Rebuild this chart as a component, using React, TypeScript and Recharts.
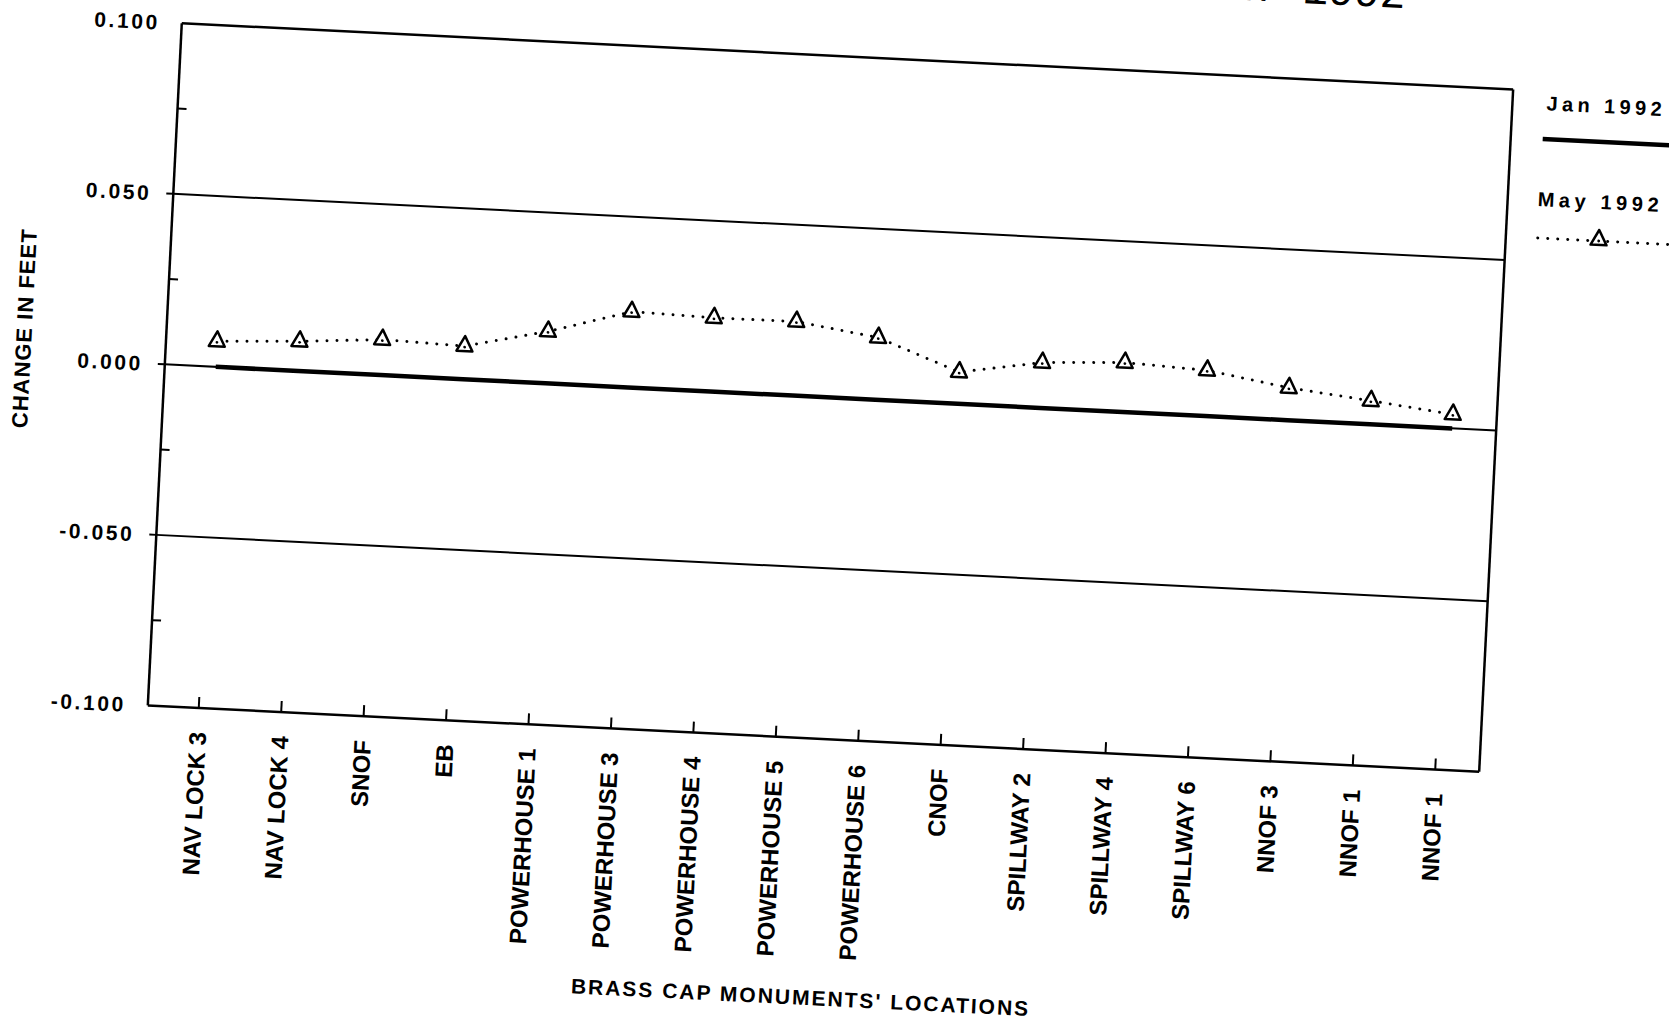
import React from "react";
import { LineChart, Line, XAxis, YAxis, ReferenceLine, Legend, Label } from "recharts";

// monument locations along the dam
const locations = [
  "NAV LOCK 3",
  "NAV LOCK 4",
  "SNOF",
  "EB",
  "POWERHOUSE 1",
  "POWERHOUSE 3",
  "POWERHOUSE 4",
  "POWERHOUSE 5",
  "POWERHOUSE 6",
  "CNOF",
  "SPILLWAY 2",
  "SPILLWAY 4",
  "SPILLWAY 6",
  "NNOF 3",
  "NNOF 1",
  "NNOF 1",
];

// change in feet, Jan 1992 is the reference survey
const jan1992 = [0, 0, 0, 0, 0, 0, 0, 0, 0, 0, 0, 0, 0, 0, 0, 0];
const may1992 = [
  0.0075, 0.0087, 0.0104, 0.0097, 0.0152, 0.0222, 0.0216, 0.0217,
  0.0182, 0.0093, 0.0133, 0.0145, 0.0134, 0.0095, 0.0069, 0.0041,
];

const yTicks = [-0.1, -0.075, -0.05, -0.025, 0, 0.025, 0.05, 0.075, 0.1];
const majorTicks = [-0.1, -0.05, 0, 0.05, 0.1];
const gridValues = [-0.05, 0, 0.05];

const data = locations.map((location, i) => ({
  location,
  jan: jan1992[i],
  may: may1992[i],
}));

const FONT = '"Liberation Sans", Arial, Helvetica, sans-serif';
const INK = "#000";

function XTick(props: any) {
  const { x, y, payload } = props;
  return (
    <g>
      <line x1={x} y1={y} x2={x} y2={y - 11} stroke={INK} strokeWidth={2} />
      <text
        transform={`translate(${x},${y + 24}) rotate(-90)`}
        textAnchor="end"
        dominantBaseline="central"
        fontFamily={FONT}
        fontWeight="bold"
        fontSize={24}
        fill={INK}
      >
        {payload.value}
      </text>
    </g>
  );
}

function YTick(props: any) {
  const { x, y, payload } = props;
  const v = payload.value;
  if (!majorTicks.includes(v)) {
    return <line x1={x} y1={y} x2={x + 9} y2={y} stroke={INK} strokeWidth={2} />;
  }
  return (
    <g>
      {gridValues.includes(v) && <line x1={x - 7} y1={y} x2={x} y2={y} stroke={INK} strokeWidth={2} />}
      <text
        x={x - 22}
        y={y}
        textAnchor="end"
        dominantBaseline="central"
        fontFamily={FONT}
        fontWeight="bold"
        fontSize={21}
        letterSpacing={2.6}
        fill={INK}
      >
        {v.toFixed(3)}
      </text>
    </g>
  );
}

function TriangleDot(props: any) {
  const { cx, cy } = props;
  if (cx == null || cy == null) return null;
  return (
    <g>
      <path
        d={`M${cx},${cy - 10} L${cx - 8},${cy + 5} L${cx + 8},${cy + 5} Z`}
        fill="#fff"
        stroke={INK}
        strokeWidth={2.5}
        strokeLinejoin="round"
      />
      <circle cx={cx} cy={cy + 1} r={1.4} fill={INK} />
    </g>
  );
}

function renderLegend() {
  return (
    <svg width={160} height={175} style={{ overflow: "visible" }}>
      <text x={4} y={18} dominantBaseline="central" fontFamily={FONT} fontWeight="bold" fontSize={20} letterSpacing={4.4} fill={INK}>
        Jan 1992
      </text>
      <line x1={2} y1={54} x2={170} y2={54} stroke={INK} strokeWidth={4.5} />
      <text x={0} y={114} dominantBaseline="central" fontFamily={FONT} fontWeight="bold" fontSize={20} letterSpacing={4.6} fill={INK}>
        May 1992
      </text>
      <line x1={2} y1={153} x2={170} y2={153} stroke={INK} strokeWidth={3} strokeDasharray="0 10" strokeLinecap="round" />
      <TriangleDot cx={63} cy={152} />
    </svg>
  );
}

function XTitle(props: any) {
  const { viewBox } = props;
  return (
    <text
      x={viewBox.x + viewBox.width / 2}
      y={viewBox.y + 259}
      textAnchor="middle"
      dominantBaseline="central"
      fontFamily={FONT}
      fontWeight="bold"
      fontSize={21}
      letterSpacing={2}
      fill={INK}
    >
      BRASS CAP MONUMENTS' LOCATIONS
    </text>
  );
}

function YTitle(props: any) {
  const { viewBox } = props;
  const cx = viewBox.x + 8;
  const cy = viewBox.y + viewBox.height / 2 - 29;
  return (
    <text
      transform={`translate(${cx},${cy}) rotate(-90)`}
      textAnchor="middle"
      dominantBaseline="central"
      fontFamily={FONT}
      fontWeight="bold"
      fontSize={22}
      letterSpacing={1}
      fill={INK}
    >
      CHANGE IN FEET
    </text>
  );
}

export default function App() {
  return (
    <div style={{ position: "fixed", left: 0, top: 0, width: 1669, height: 1022, overflow: "hidden", background: "#fff" }}>
      {/* the scanned page sits a little crooked */}
      <div
        style={{
          position: "absolute",
          left: 0,
          top: 0,
          width: 1669,
          height: 1022,
          transform: "rotate(2.85deg)",
          transformOrigin: "831px 397px",
        }}
      >
        <svg width={1669} height={60} style={{ position: "absolute", left: 0, top: -60, overflow: "visible" }}>
          <text x={1385} y={40} textAnchor="end" fontFamily='"Liberation Mono", "Courier New", monospace' fontSize={43} fill={INK}>
            MAY 1992
          </text>
        </svg>
        <LineChart width={1669} height={1022} data={data} margin={{ top: 56, right: 171, left: 14, bottom: 0 }}>
          <XAxis
            dataKey="location"
            padding={{ left: 51, right: 44 }}
            interval={0}
            height={283}
            tick={<XTick />}
            tickLine={false}
            tickSize={0}
            tickMargin={0}
            axisLine={{ stroke: INK, strokeWidth: 2.5 }}
          >
            <Label content={<XTitle />} />
          </XAxis>
          <YAxis
            type="number"
            domain={[-0.1, 0.1]}
            ticks={yTicks}
            interval={0}
            width={150}
            tick={<YTick />}
            tickLine={false}
            tickSize={0}
            tickMargin={0}
            axisLine={{ stroke: INK, strokeWidth: 2.5 }}
          >
            <Label content={<YTitle />} />
          </YAxis>
          {/* right edge of the frame, same scale as the left axis */}
          <YAxis
            yAxisId="frame"
            orientation="right"
            type="number"
            domain={[-0.1, 0.1]}
            width={1}
            tick={false}
            tickLine={false}
            axisLine={{ stroke: INK, strokeWidth: 2.5 }}
          />
          <ReferenceLine y={0.1} stroke={INK} strokeWidth={2.5} />
          {gridValues.map((v) => (
            <ReferenceLine key={v} y={v} stroke={INK} strokeWidth={2} />
          ))}
          <Legend
            layout="horizontal"
            align="center"
            verticalAlign="middle"
            content={renderLegend}
            wrapperStyle={{ position: "absolute", left: 1527, top: 50, width: 160, height: 175 }}
          />
          <Line
            yAxisId="frame"
            dataKey="jan"
            name="Jan 1992"
            stroke={INK}
            strokeWidth={4.5}
            dot={false}
            activeDot={false}
            isAnimationActive={false}
          />
          <Line
            dataKey="may"
            name="May 1992"
            stroke={INK}
            strokeWidth={3}
            strokeDasharray="0 10"
            strokeLinecap="round"
            dot={<TriangleDot />}
            activeDot={false}
            isAnimationActive={false}
          />
        </LineChart>
      </div>
    </div>
  );
}
